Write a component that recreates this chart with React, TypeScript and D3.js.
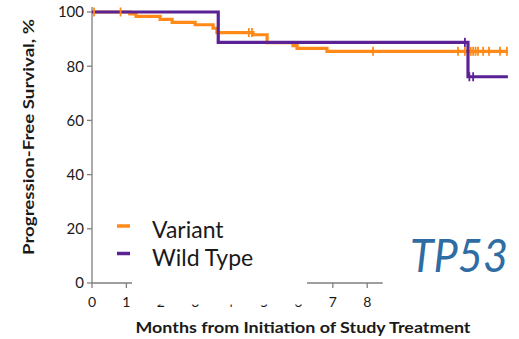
import { useEffect, useRef } from "react";
import * as d3 from "d3";

// Kaplan–Meier step data (months, PFS %)
const variantTimes = [0, 1.1, 1.28, 1.98, 2.33, 3.0, 3.52, 3.63, 4.68, 5.09, 5.84, 5.96, 6.83, 12.09];
const variantSurv = [100, 99.3, 98.4, 97.3, 96.2, 95.3, 94.0, 92.4, 91.6, 88.7, 87.6, 86.6, 85.5, 85.5];
const variantCensor = [0.06, 0.83, 4.56, 4.65, 8.17, 10.64, 10.84, 11.01, 11.08, 11.15, 11.22, 11.37, 11.54, 11.86, 12.06];

const wildTimes = [0, 3.67, 10.93, 12.09];
const wildSurv = [100, 88.8, 76.1, 76.1];
const wildCensor = [10.84, 10.97, 11.08];

const xTicks = [0, 1, 2, 3, 4, 5, 6, 7, 8];
const yTicks = [0, 20, 40, 60, 80, 100];
const legendLabels = ["Variant", "Wild Type"];

const COLORS = {
  variant: "#FF8A17",
  wild: "#5B2295",
  axis: "#7f7f7f",
  text: "#1a1a1a",
  gene: "#2F6CA3",
};

const FONT = "Lato, 'Noto Sans', sans-serif";
const W = 519;
const H = 339;
const AXIS_END = 8.45; // x axis line stops a bit past 8

export default function App() {
  const svgRef = useRef<SVGSVGElement>(null);

  useEffect(() => {
    if (!svgRef.current) return;
    const svg = d3.select(svgRef.current);
    svg.selectAll("*").remove();

    const x = d3.scaleLinear().domain([0, 12]).range([92, 92 + 34.4 * 12]);
    const y = d3.scaleLinear().domain([0, 100]).range([283, 12]);

    // ============ Y AXIS ============
    const yAxis = svg.append("g");
    yAxis.append("line")
      .attr("x1", x(0)).attr("x2", x(0))
      .attr("y1", y(101.8)).attr("y2", y(0))
      .attr("stroke", COLORS.axis).attr("stroke-width", 1.3);
    yTicks.forEach((t) => {
      yAxis.append("line")
        .attr("x1", x(0) - 5).attr("x2", x(0))
        .attr("y1", y(t)).attr("y2", y(t))
        .attr("stroke", COLORS.axis).attr("stroke-width", 1.3);
      yAxis.append("text")
        .attr("x", x(0) - 8).attr("y", y(t))
        .attr("dy", "0.36em")
        .attr("text-anchor", "end")
        .attr("font-family", FONT).attr("font-size", 15)
        .attr("fill", COLORS.text)
        .text(t);
    });

    // ============ X AXIS ============
    const xAxis = svg.append("g");
    xAxis.append("line")
      .attr("x1", x(0)).attr("x2", x(AXIS_END))
      .attr("y1", y(0)).attr("y2", y(0))
      .attr("stroke", COLORS.axis).attr("stroke-width", 1.3);
    xTicks.forEach((t) => {
      xAxis.append("line")
        .attr("x1", x(t)).attr("x2", x(t))
        .attr("y1", y(0)).attr("y2", y(0) + 5)
        .attr("stroke", COLORS.axis).attr("stroke-width", 1.3);
      xAxis.append("text")
        .attr("x", x(t)).attr("y", 307)
        .attr("text-anchor", "middle")
        .attr("font-family", FONT).attr("font-size", 14)
        .attr("fill", COLORS.text)
        .text(t);
    });

    // ============ CURVES ============
    const line = d3.line<[number, number]>()
      .x((d) => x(d[0]))
      .y((d) => y(d[1]))
      .curve(d3.curveStepAfter);

    const series = [
      { times: variantTimes, surv: variantSurv, censor: variantCensor, color: COLORS.variant },
      { times: wildTimes, surv: wildSurv, censor: wildCensor, color: COLORS.wild },
    ];

    series.forEach((s) => {
      const pts = s.times.map((t, i) => [t, s.surv[i]] as [number, number]);
      svg.append("path")
        .attr("d", line(pts))
        .attr("fill", "none")
        .attr("stroke", s.color)
        .attr("stroke-width", 3.2);
    });

    // censor ticks on top
    series.forEach((s) => {
      const survAt = (t: number) => {
        let v = s.surv[0];
        s.times.forEach((tt, i) => { if (tt <= t) v = s.surv[i]; });
        return v;
      };
      s.censor.forEach((c) => {
        const cy = y(survAt(c));
        svg.append("line")
          .attr("x1", x(c)).attr("x2", x(c))
          .attr("y1", cy - 4.5).attr("y2", cy + 4.5)
          .attr("stroke", s.color)
          .attr("stroke-width", 1.8);
      });
    });

    // ============ LEGEND (white box masks part of the x axis) ============
    svg.append("rect")
      .attr("x", 132).attr("y", 205)
      .attr("width", 175).attr("height", 99.5)
      .attr("fill", "#fff");

    const legendColors = [COLORS.variant, COLORS.wild];
    legendLabels.forEach((lab, i) => {
      const ly = 226 + i * 27.5;
      svg.append("line")
        .attr("x1", 117).attr("x2", 130)
        .attr("y1", ly).attr("y2", ly)
        .attr("stroke", legendColors[i]).attr("stroke-width", 3.5);
      svg.append("text")
        .attr("x", 152).attr("y", ly + 12)
        .attr("font-family", FONT).attr("font-size", 23)
        .attr("fill", COLORS.text)
        .text(lab);
    });

    // ============ TITLES ============
    svg.append("text")
      .attr("x", 303).attr("y", 333)
      .attr("text-anchor", "middle")
      .attr("font-family", FONT).attr("font-size", 15).attr("font-weight", 700)
      .attr("fill", COLORS.text)
      .attr("textLength", 335).attr("lengthAdjust", "spacingAndGlyphs")
      .text("Months from Initiation of Study Treatment");

    svg.append("text")
      .attr("transform", `translate(34,137) rotate(-90)`)
      .attr("text-anchor", "middle")
      .attr("font-family", FONT).attr("font-size", 15).attr("font-weight", 700)
      .attr("fill", COLORS.text)
      .attr("textLength", 236).attr("lengthAdjust", "spacingAndGlyphs")
      .text("Progression-Free Survival, %");

    svg.append("text")
      .attr("x", 410).attr("y", 272)
      .attr("font-family", FONT).attr("font-size", 47).attr("font-style", "italic")
      .attr("fill", COLORS.gene)
      .attr("textLength", 98).attr("lengthAdjust", "spacingAndGlyphs")
      .text("TP53");
  }, []);

  return (
    <svg
      ref={svgRef}
      width={W}
      height={H}
      style={{ position: "absolute", left: 0, top: 0, background: "#fff" }}
    />
  );
}
